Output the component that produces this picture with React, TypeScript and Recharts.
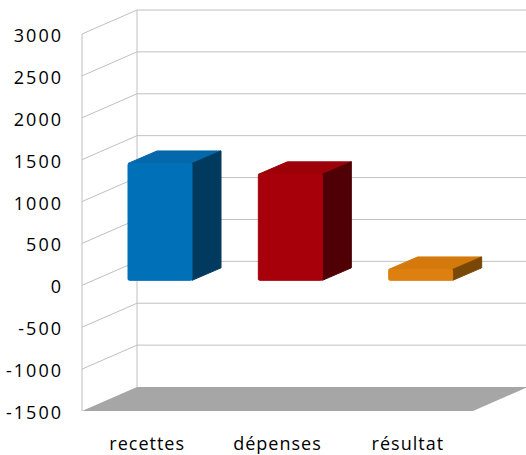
import React from 'react';
import { BarChart, Bar, XAxis, YAxis, CartesianGrid, Cell } from 'recharts';

const categories = ['recettes', 'dépenses', 'résultat'];
const values = [1395, 1265, 130];
const yTicks = [-1500, -1000, -500, 0, 500, 1000, 1500, 2000, 2500, 3000];

const frontColors = ['#0070b8', '#a8000b', '#dd800f'];
const topColors = ['#0568aa', '#9e000a', '#d47a0c'];
const sideColors = ['#003a5e', '#4e0005', '#7a4806'];

const data = categories.map((name, i) => ({ name, value: values[i] }));

// oblique depth of the whole plot box
const DX = 55;
const DY = -24;
// where the bars sit inside that depth
const BAR_OX = 13;
const BAR_OY = -5;
const BAR_DX = 29;
const BAR_DY = -12.5;

const GRID = '#c0c0c0';

const GridLine = (props: any) => {
  const { x1, x2, y1, y, height } = props;
  const top = typeof y === 'number' ? y : 34;
  const bottom = typeof height === 'number' ? top + height : 411;
  if (Math.abs(y1 - bottom) < 0.5) {
    return (
      <polygon
        points={`${x1},${y1} ${x2},${y1} ${x2 + DX},${y1 + DY} ${x1 + DX},${y1 + DY}`}
        fill="#a6a6a6"
      />
    );
  }
  return (
    <g>
      <line x1={x1} y1={y1} x2={x1 + DX} y2={y1 + DY} stroke={GRID} strokeWidth={1} />
      <line x1={x1 + DX} y1={y1 + DY} x2={x2 + DX} y2={y1 + DY} stroke={GRID} strokeWidth={1} />
      {Math.abs(y1 - top) < 0.5 && (
        <>
          <line x1={x1} y1={top} x2={x1} y2={bottom} stroke={GRID} strokeWidth={1} />
          <line x1={x1 + DX} y1={top + DY} x2={x1 + DX} y2={bottom + DY} stroke={GRID} strokeWidth={1} />
        </>
      )}
    </g>
  );
};

const Box3D = (props: any) => {
  const { x, y, width, height, payload } = props;
  const i = Math.max(0, categories.indexOf(payload?.name));
  const fx = x + BAR_OX;
  const fy = y + BAR_OY;
  const w = width;
  const h = height;
  return (
    <g strokeLinejoin="round">
      <polygon
        points={`${fx},${fy} ${fx + BAR_DX},${fy + BAR_DY} ${fx + w + BAR_DX},${fy + BAR_DY} ${fx + w},${fy}`}
        fill={topColors[i]}
        stroke={topColors[i]}
        strokeWidth={1}
      />
      <polygon
        points={`${fx + w},${fy} ${fx + w + BAR_DX},${fy + BAR_DY} ${fx + w + BAR_DX},${fy + h + BAR_DY} ${fx + w},${fy + h}`}
        fill={sideColors[i]}
        stroke={sideColors[i]}
        strokeWidth={1}
      />
      <rect x={fx} y={fy} width={w} height={h} fill={frontColors[i]} stroke={frontColors[i]} strokeWidth={1} rx={1.5} />
    </g>
  );
};

const YTick = (props: any) => {
  const { x, y, payload } = props;
  return (
    <text
      x={x + 2}
      y={y + 8}
      textAnchor="end"
      fontFamily="Open Sans"
      fontSize={18}
      letterSpacing={2}
      fill="#000000"
    >
      {payload.value}
    </text>
  );
};

const XTick = (props: any) => {
  const { x, y, payload } = props;
  return (
    <text
      x={x}
      y={y + 13}
      textAnchor="middle"
      fontFamily="Open Sans"
      fontSize={18}
      letterSpacing={1}
      fill="#000000"
    >
      {payload.value}
    </text>
  );
};

export default function App() {
  return (
    <div style={{ position: 'absolute', left: 0, top: 0, background: '#ffffff' }}>
      <BarChart
        width={526}
        height={455}
        data={data}
        margin={{ top: 34, right: 53, bottom: 0, left: 0 }}
      >
        <CartesianGrid horizontal={GridLine} vertical={false} />
        <XAxis
          dataKey="name"
          height={44}
          axisLine={false}
          tickLine={false}
          tickSize={0}
          tickMargin={26}
          interval={0}
          tick={XTick}
        />
        <YAxis
          width={82}
          domain={[-1500, 3000]}
          ticks={yTicks}
          interval={0}
          axisLine={false}
          tickLine={false}
          tickSize={0}
          tickMargin={21}
          tick={YTick}
        />
        <Bar dataKey="value" barSize={64} shape={Box3D} isAnimationActive={false}>
          {data.map((d, i) => (
            <Cell key={d.name} fill={frontColors[i]} />
          ))}
        </Bar>
      </BarChart>
    </div>
  );
}
